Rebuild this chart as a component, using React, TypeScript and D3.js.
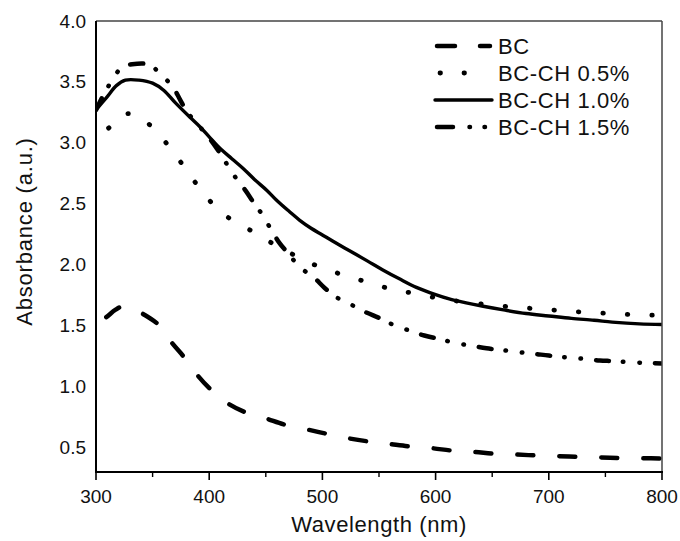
import React from "react";
import * as d3 from "d3";

// ---- data ----
const seriesNames = ["BC", "BC-CH 0.5%", "BC-CH 1.0%", "BC-CH 1.5%"];

const bcWl = [300, 309, 317, 324, 333, 341, 355, 367, 378, 390, 401, 410, 417, 432, 450, 466, 486, 503, 521, 541, 559, 577, 597, 615, 634, 652, 672, 690, 709, 727, 746, 764, 784, 800];
const bcAbs = [1.52, 1.57, 1.63, 1.66, 1.64, 1.60, 1.51, 1.36, 1.24, 1.09, 0.98, 0.91, 0.86, 0.79, 0.74, 0.69, 0.65, 0.615, 0.58, 0.55, 0.53, 0.51, 0.495, 0.475, 0.465, 0.45, 0.443, 0.435, 0.43, 0.423, 0.42, 0.415, 0.413, 0.41];

const ch05Wl = [300, 311, 320, 328, 340, 346, 361, 375, 389, 403, 418, 437, 455, 475, 493, 514, 535, 557, 578, 600, 621, 644, 666, 688, 710, 732, 755, 777, 800];
const ch05Abs = [3.04, 3.12, 3.2, 3.24, 3.2, 3.16, 3.01, 2.84, 2.66, 2.5, 2.38, 2.28, 2.18, 2.08, 2.0, 1.93, 1.87, 1.81, 1.77, 1.73, 1.7, 1.675, 1.655, 1.64, 1.625, 1.61, 1.6, 1.59, 1.585];

const ch10Wl = [300, 310, 318, 326, 338, 350, 360, 370, 383, 392, 400, 409, 420, 430, 440, 451, 460, 471, 480, 490, 500, 509, 524, 540, 553, 568, 583, 600, 612, 626, 642, 660, 680, 700, 720, 740, 756, 780, 800];
const ch10Abs = [3.27, 3.38, 3.47, 3.515, 3.515, 3.49, 3.43, 3.33, 3.21, 3.13, 3.05, 2.96, 2.87, 2.79, 2.70, 2.61, 2.525, 2.435, 2.365, 2.3, 2.245, 2.195, 2.115, 2.03, 1.96, 1.885, 1.815, 1.755, 1.72, 1.69, 1.66, 1.63, 1.6, 1.58, 1.56, 1.545, 1.53, 1.515, 1.51];

const ch15Wl = [300, 310, 323, 332, 348, 356, 367, 374, 380, 390, 400, 407, 416, 423, 432, 440, 447, 454, 462, 471, 480, 492, 502, 513, 524, 536, 551, 562, 577, 590, 604, 617, 632, 645, 659, 672, 687, 700, 716, 729, 745, 757, 772, 786, 800];
const ch15Abs = [3.27, 3.45, 3.62, 3.645, 3.64, 3.57, 3.47, 3.36, 3.26, 3.15, 3.04, 2.95, 2.82, 2.72, 2.61, 2.5, 2.41, 2.3, 2.18, 2.08, 1.98, 1.9, 1.81, 1.73, 1.68, 1.62, 1.56, 1.51, 1.46, 1.42, 1.39, 1.36, 1.335, 1.315, 1.3, 1.285, 1.27, 1.255, 1.24, 1.23, 1.215, 1.21, 1.2, 1.195, 1.19];

const xTicks = [300, 400, 500, 600, 700, 800];
const xMinorTicks = [350, 450, 550, 650, 750];
const yTicks = [0.5, 1.0, 1.5, 2.0, 2.5, 3.0, 3.5, 4.0];

const xTitle = "Wavelength (nm)";
const yTitle = "Absorbance (a.u.)";

// ---- styles ----
const FONT = "'Liberation Sans', Arial, Helvetica, sans-serif";
const styles = [
  { width: 4.5, dash: "16 26", offset: 30, cap: "round" },
  { width: 4.8, dash: "0.5 24", offset: 8.5, cap: "round" },
  { width: 3.4, dash: "none", offset: 0, cap: "round" },
  { width: 4.5, dash: "13 14 0.5 16 0.5 15", offset: 0, cap: "round" },
];
const legendStyles = [
  { x1: 437, x2: 490, dash: "18 25" },
  { x1: 440, x2: 488, dash: "0.5 23.5" },
  { x1: 435, x2: 492, dash: "none" },
  { x1: 437, x2: 486, dash: "16 16.5 0.5 14.5 0.5 100" },
];

export default function App() {
  const W = 680, H = 541;
  const left = 96, right = 662, top = 21, bottom = 472;
  const x = d3.scaleLinear().domain([300, 800]).range([left, right]);
  const y = d3.scaleLinear().domain([0.3, 4.0]).range([bottom, top]);

  const series = [
    { wl: bcWl, abs: bcAbs },
    { wl: ch05Wl, abs: ch05Abs },
    { wl: ch10Wl, abs: ch10Abs },
    { wl: ch15Wl, abs: ch15Abs },
  ];

  const line = d3
    .line<[number, number]>()
    .x((d) => x(d[0]))
    .y((d) => y(d[1]))
    .curve(d3.curveCatmullRom.alpha(0.5));

  const legendRowY = [46, 73, 100, 127];

  return (
    <svg
      width={W}
      height={H}
      viewBox={`0 0 ${W} ${H}`}
      style={{ position: "absolute", left: 0, top: 0, background: "#fff" }}
      fontFamily={FONT}
    >
      <rect x={0} y={0} width={W} height={H} fill="#fff" />
      <defs>
        <clipPath id="plotclip">
          <rect x={left} y={top - 5} width={right - left} height={bottom - top + 5} />
        </clipPath>
      </defs>

      {/* curves */}
      <g clipPath="url(#plotclip)">
        {series.map((s, i) => {
          const pts: [number, number][] = s.wl.map((w, k) => [w, s.abs[k]]);
          const st = styles[i];
          return (
            <path
              key={i}
              d={line(pts) || ""}
              fill="none"
              stroke="#000"
              strokeWidth={st.width}
              strokeDasharray={st.dash}
              strokeDashoffset={st.offset}
              strokeLinecap={st.cap as any}
              strokeLinejoin="round"
            />
          );
        })}
      </g>

      {/* frame */}
      <line x1={left} x2={right} y1={top} y2={top} stroke="#444" strokeWidth={1.5} />
      <line x1={right} x2={right} y1={top} y2={bottom} stroke="#444" strokeWidth={1.5} />
      <line x1={left} x2={left} y1={top} y2={bottom + 1} stroke="#000" strokeWidth={2} />
      <line x1={left - 1} x2={right + 1} y1={bottom} y2={bottom} stroke="#000" strokeWidth={2} />

      {/* x ticks */}
      {xTicks.map((t) => (
        <g key={"xt" + t}>
          <line x1={x(t)} x2={x(t)} y1={bottom} y2={bottom + 8} stroke="#000" strokeWidth={1.6} />
          <text x={x(t)} y={503} textAnchor="middle" fontSize={19} fill="#111">
            {t}
          </text>
        </g>
      ))}
      {xMinorTicks.map((t) => (
        <line key={"xm" + t} x1={x(t)} x2={x(t)} y1={bottom} y2={bottom + 5} stroke="#000" strokeWidth={1.4} />
      ))}

      {/* y tick labels */}
      {yTicks.map((t) => (
        <text key={"yt" + t} x={86} y={y(t) + 6.5} textAnchor="end" fontSize={19} fill="#111">
          {t.toFixed(1)}
        </text>
      ))}

      {/* axis titles */}
      <text x={(left + right) / 2} y={532} textAnchor="middle" fontSize={22} letterSpacing={0.6} fill="#111">
        {xTitle}
      </text>
      <text
        transform={`translate(32, ${(top + bottom) / 2 - 15}) rotate(-90)`}
        textAnchor="middle"
        fontSize={22}
        letterSpacing={0.8}
        fill="#111"
      >
        {yTitle}
      </text>

      {/* legend */}
      {seriesNames.map((name, i) => {
        const ls = legendStyles[i];
        const ly = legendRowY[i];
        return (
          <g key={"lg" + i}>
            <line
              x1={ls.x1}
              x2={ls.x2}
              y1={ly}
              y2={ly}
              stroke="#000"
              strokeWidth={styles[i].width}
              strokeDasharray={ls.dash}
              strokeLinecap="round"
            />
            <text x={498} y={ly + 8} fontSize={22} letterSpacing={0.6} fill="#111">
              {name}
            </text>
          </g>
        );
      })}
    </svg>
  );
}
